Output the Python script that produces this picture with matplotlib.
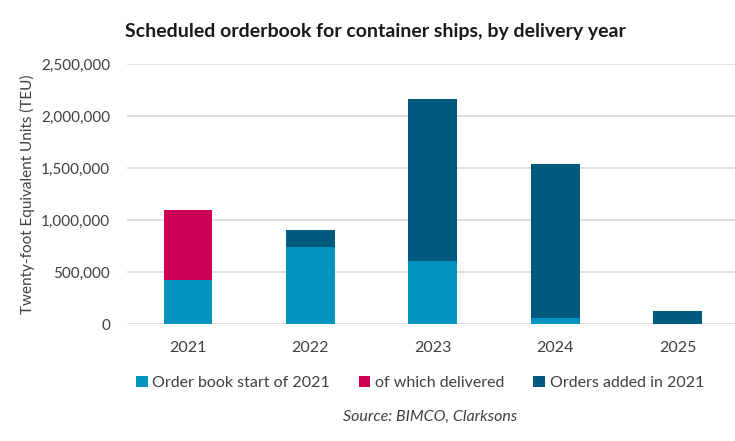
import matplotlib
matplotlib.use("Agg")
import matplotlib.pyplot as plt
from matplotlib.ticker import FuncFormatter

years = ["2021", "2022", "2023", "2024", "2025"]
order_book_start = [425000, 745000, 610000, 60000, 0]
delivered = [675000, 0, 0, 0, 0]
orders_added = [0, 160000, 1550000, 1480000, 130000]
series_labels = ["Order book start of 2021", "of which delivered", "Orders added in 2021"]
yticks = [0, 500000, 1000000, 1500000, 2000000, 2500000]

c_light = "#0093C0"
c_mag = "#CC0055"
c_dark = "#005A7E"

plt.rcParams['font.family'] = ['Lato', 'DejaVu Sans']

fig = plt.figure(figsize=(7.35, 4.41), dpi=100)
ax = fig.add_axes([126.8/735, (441-324.3)/441, 612/735, 260.3/441])

x = list(range(len(years)))
w = 0.4
b1 = ax.bar(x, order_book_start, width=w, color=c_light, label=series_labels[0], zorder=3)
b2 = ax.bar(x, delivered, width=w, bottom=order_book_start, color=c_mag, label=series_labels[1], zorder=3)
bottom3 = [a + b for a, b in zip(order_book_start, delivered)]
b3 = ax.bar(x, orders_added, width=w, bottom=bottom3, color=c_dark, label=series_labels[2], zorder=3)

ax.set_xlim(-0.5, len(years) - 0.5)
ax.set_ylim(0, 2500000)
ax.set_yticks(yticks)
ax.yaxis.set_major_formatter(FuncFormatter(lambda v, p: f"{int(v):,}"))
ax.set_xticks(x)
ax.set_xticklabels(years)
ax.grid(axis='y', color='#D9D9D9', linewidth=1.2, zorder=0)
for s in ax.spines.values():
    s.set_visible(False)
ax.tick_params(axis='y', length=0, labelsize=11, colors='#404040', pad=12)
ax.tick_params(axis='x', length=0, labelsize=11.5, colors='#404040', pad=12)
ax.set_ylabel("Twenty-foot Equivalent Units (TEU)", fontsize=11, color='#404040')
ax.yaxis.set_label_coords((35 - 126.8) / 612, 0.5)

fig.text(125/735, 1 - 31/441, "Scheduled orderbook for container ships, by delivery year",
         fontsize=14, fontweight='bold', color='#1a1a1a', ha='left', va='center')

leg = fig.legend(handles=[b1, b2, b3], labels=series_labels, ncol=3, loc='center',
                 bbox_to_anchor=(420/735, (441-383)/441), frameon=False,
                 handlelength=0.72, handleheight=0.72, handletextpad=0.3,
                 columnspacing=1.8, fontsize=11.5)
for t in leg.get_texts():
    t.set_color('#404040')

fig.text(430/735, 1 - 417/441, "Source: BIMCO, Clarksons", fontsize=11.5, style='italic',
         color='#404040', ha='center', va='center')

fig.savefig("out.png", dpi=100)
